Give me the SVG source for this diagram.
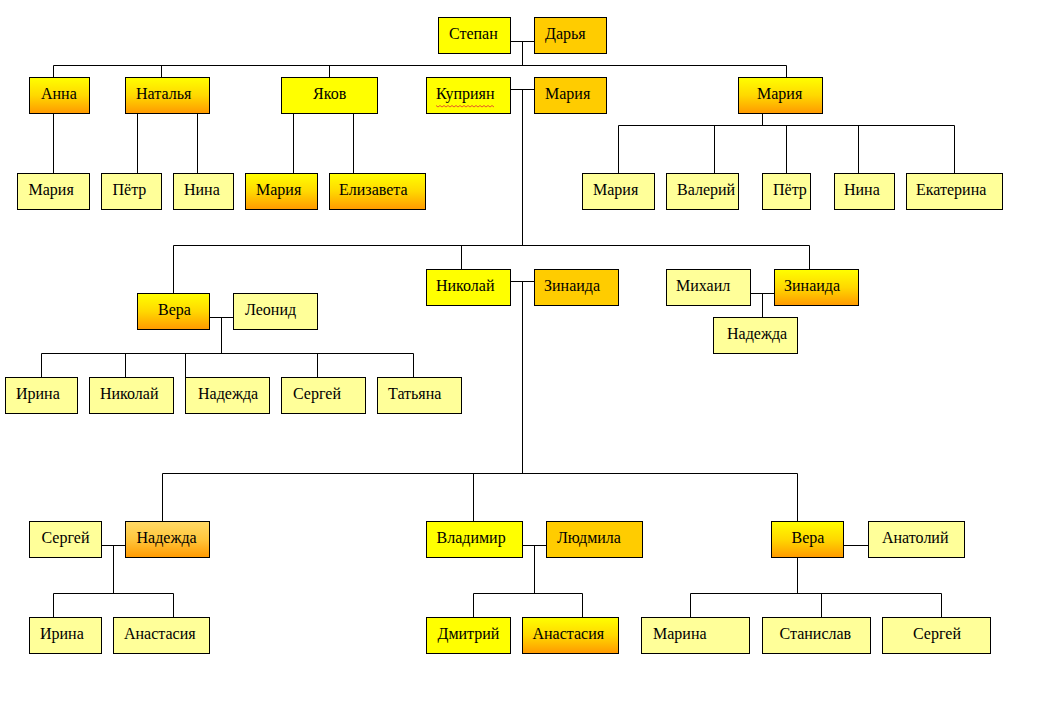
<svg xmlns="http://www.w3.org/2000/svg" width="1039" height="715" viewBox="0 0 1039 715">
<defs>
<linearGradient id="g1" x1="0" y1="0" x2="0" y2="1">
<stop offset="0" stop-color="#FFFF00"/>
<stop offset="0.5" stop-color="#FFD800"/>
<stop offset="1" stop-color="#FF9900"/>
</linearGradient>
<linearGradient id="g2" x1="0" y1="0" x2="0" y2="1">
<stop offset="0" stop-color="#FFD966"/>
<stop offset="0.5" stop-color="#FFC63C"/>
<stop offset="1" stop-color="#FF9900"/>
</linearGradient>
<style>
rect{stroke:#000;stroke-width:1}
.y{fill:#FFFF00}
.o{fill:#FFCC00}
.l{fill:#FFFF99}
.g{fill:url(#g1)}
.g2{fill:url(#g2)}
text{font-family:"Liberation Serif","Times New Roman",serif;font-size:16px;fill:#000}
.c{fill:none;stroke:#000;stroke-width:1}
</style>
</defs>
<rect x="0" y="0" width="1039" height="715" style="fill:#fff;stroke:none"/>
<g id="connectors" class="c">
<path d="M510 41.5H534M522.5 41.5V65.5M53.5 65.5H786.5M53.5 65.5V77M161.5 65.5V77M329.5 65.5V77M786.5 65.5V77"/>
<path d="M53.5 113V173M137.5 113V173M197.5 113V173M293.5 113V173M353.5 113V173"/>
<path d="M762.5 113V125.5M618.5 125.5H954.5M618.5 125.5V173M714.5 125.5V173M786.5 125.5V173M858.5 125.5V173M954.5 125.5V173"/>
<path d="M510 89.5H534M522.5 89.5V245.5M173.5 245.5H809.5M173.5 245.5V293M461.5 245.5V269M809.5 245.5V269"/>
<path d="M209 317.5H233M221.5 317.5V353.5M41.5 353.5H413.5M41.5 353.5V377M125.5 353.5V377M185.5 353.5V377M317.5 353.5V377M413.5 353.5V377"/>
<path d="M750 293.5H774M762.5 293.5V317"/>
<path d="M510 281.5H534M522.5 281.5V473.5M162.5 473.5H797.5M162.5 473.5V521M473.5 473.5V521M797.5 473.5V521"/>
<path d="M101 545.5H125M113.5 545.5V593.5M53.5 593.5H173.5M53.5 593.5V617M173.5 593.5V617"/>
<path d="M522 545.5H546M534.5 545.5V593.5M473.5 593.5H582.5M473.5 593.5V617M582.5 593.5V617"/>
<path d="M843 545.5H868M797.5 557V593.5M690.5 593.5H941.5M690.5 593.5V617M821.5 593.5V617M941.5 593.5V617"/>
</g>
<g id="n-stepan"><rect class="y" x="438.5" y="17.5" width="72" height="36"/><text x="449" y="39">Степан</text></g>
<g id="n-darya"><rect class="o" x="534.5" y="17.5" width="72" height="36"/><text x="545" y="39">Дарья</text></g>
<g id="n-anna"><rect class="g" x="29.5" y="77.5" width="60" height="36"/><text x="41" y="99">Анна</text></g>
<g id="n-natalya"><rect class="g" x="125.5" y="77.5" width="84" height="36"/><text x="136" y="99">Наталья</text></g>
<g id="n-yakov"><rect class="y" x="281.5" y="77.5" width="96" height="36"/><text x="313" y="99">Яков</text></g>
<g id="n-kuprian"><rect class="y" x="426.5" y="77.5" width="84" height="36"/><text x="436" y="99">Куприян</text><path d="M436 105.5l2 1.5l2-1.5l2 1.5l2-1.5l2 1.5l2-1.5l2 1.5l2-1.5l2 1.5l2-1.5l2 1.5l2-1.5l2 1.5l2-1.5l2 1.5l2-1.5l2 1.5l2-1.5l2 1.5l2-1.5l2 1.5l2-1.5l2 1.5l2-1.5l2 1.5l2-1.5l2 1.5l2-1.5l2 1.5" style="fill:none;stroke:#E03030;stroke-width:0.8"/></g>
<g id="n-maria-k"><rect class="o" x="534.5" y="77.5" width="72" height="36"/><text x="545" y="99">Мария</text></g>
<g id="n-maria-r"><rect class="g" x="738.5" y="77.5" width="84" height="36"/><text x="757" y="99">Мария</text></g>
<g id="n-maria-1"><rect class="l" x="17.5" y="173.5" width="72" height="36"/><text x="28.5" y="195">Мария</text></g>
<g id="n-petr-1"><rect class="l" x="101.5" y="173.5" width="60" height="36"/><text x="112.5" y="195">Пётр</text></g>
<g id="n-nina-1"><rect class="l" x="173.5" y="173.5" width="60" height="36"/><text x="184" y="195">Нина</text></g>
<g id="n-maria-2"><rect class="g" x="245.5" y="173.5" width="72" height="36"/><text x="256" y="195">Мария</text></g>
<g id="n-elizaveta"><rect class="g" x="329.5" y="173.5" width="96" height="36"/><text x="339" y="195">Елизавета</text></g>
<g id="n-maria-3"><rect class="l" x="582.5" y="173.5" width="72" height="36"/><text x="593" y="195">Мария</text></g>
<g id="n-valeriy"><rect class="l" x="666.5" y="173.5" width="72" height="36"/><text x="677" y="195">Валерий</text></g>
<g id="n-petr-2"><rect class="l" x="762.5" y="173.5" width="48" height="36"/><text x="773" y="195">Пётр</text></g>
<g id="n-nina-2"><rect class="l" x="834.5" y="173.5" width="60" height="36"/><text x="844" y="195">Нина</text></g>
<g id="n-ekaterina"><rect class="l" x="906.5" y="173.5" width="96" height="36"/><text x="916" y="195">Екатерина</text></g>
<g id="n-vera-1"><rect class="g" x="137.5" y="293.5" width="72" height="36"/><text x="158" y="315">Вера</text></g>
<g id="n-leonid"><rect class="l" x="233.5" y="293.5" width="84" height="36"/><text x="245" y="315">Леонид</text></g>
<g id="n-nikolay"><rect class="y" x="426.5" y="269.5" width="84" height="36"/><text x="436" y="291">Николай</text></g>
<g id="n-zinaida-1"><rect class="o" x="534.5" y="269.5" width="84" height="36"/><text x="544" y="291">Зинаида</text></g>
<g id="n-mikhail"><rect class="l" x="666.5" y="269.5" width="84" height="36"/><text x="676" y="291">Михаил</text></g>
<g id="n-zinaida-2"><rect class="g" x="774.5" y="269.5" width="84" height="36"/><text x="784" y="291">Зинаида</text></g>
<g id="n-nadezhda-m"><rect class="l" x="713.5" y="317.5" width="84" height="36"/><text x="727" y="339">Надежда</text></g>
<g id="n-irina-1"><rect class="l" x="5.5" y="377.5" width="72" height="36"/><text x="16" y="399">Ирина</text></g>
<g id="n-nikolay-2"><rect class="l" x="89.5" y="377.5" width="84" height="36"/><text x="100" y="399">Николай</text></g>
<g id="n-nadezhda-1"><rect class="l" x="185.5" y="377.5" width="84" height="36"/><text x="198" y="399">Надежда</text></g>
<g id="n-sergey-1"><rect class="l" x="281.5" y="377.5" width="84" height="36"/><text x="293" y="399">Сергей</text></g>
<g id="n-tatyana"><rect class="l" x="377.5" y="377.5" width="84" height="36"/><text x="388" y="399">Татьяна</text></g>
<g id="n-sergey-2"><rect class="l" x="29.5" y="521.5" width="72" height="36"/><text x="41.5" y="543">Сергей</text></g>
<g id="n-nadezhda-2"><rect class="g2" x="125.5" y="521.5" width="84" height="36"/><text x="136.5" y="543">Надежда</text></g>
<g id="n-vladimir"><rect class="y" x="426.5" y="521.5" width="96" height="36"/><text x="436.5" y="543">Владимир</text></g>
<g id="n-lyudmila"><rect class="o" x="546.5" y="521.5" width="96" height="36"/><text x="557" y="543">Людмила</text></g>
<g id="n-vera-2"><rect class="g" x="771.5" y="521.5" width="72" height="36"/><text x="791.5" y="543">Вера</text></g>
<g id="n-anatoliy"><rect class="l" x="868.5" y="521.5" width="96" height="36"/><text x="882" y="543">Анатолий</text></g>
<g id="n-irina-2"><rect class="l" x="29.5" y="617.5" width="72" height="36"/><text x="40" y="639">Ирина</text></g>
<g id="n-anastasia-1"><rect class="l" x="113.5" y="617.5" width="96" height="36"/><text x="124" y="639">Анастасия</text></g>
<g id="n-dmitriy"><rect class="y" x="426.5" y="617.5" width="84" height="36"/><text x="437.5" y="639">Дмитрий</text></g>
<g id="n-anastasia-2"><rect class="g" x="522.5" y="617.5" width="96" height="36"/><text x="532.5" y="639">Анастасия</text></g>
<g id="n-marina"><rect class="l" x="641.5" y="617.5" width="108" height="36"/><text x="653" y="639">Марина</text></g>
<g id="n-stanislav"><rect class="l" x="762.5" y="617.5" width="108" height="36"/><text x="779.5" y="639">Станислав</text></g>
<g id="n-sergey-3"><rect class="l" x="882.5" y="617.5" width="108" height="36"/><text x="913" y="639">Сергей</text></g>
</svg>
